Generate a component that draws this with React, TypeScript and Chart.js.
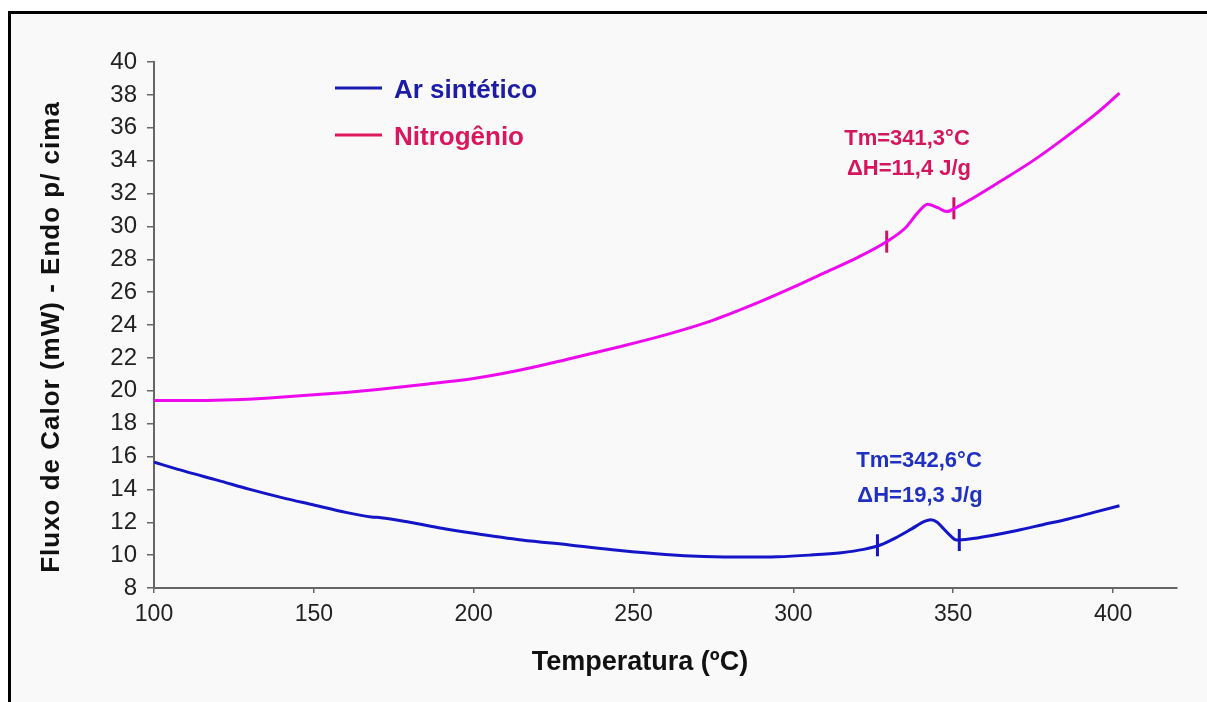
import React, { useEffect, useRef } from 'react';
import { Chart, registerables } from 'chart.js';

Chart.register(...registerables);

// ---- Data ----
const seriesNames = ['Ar sintético', 'Nitrogênio'];

const arTemp = [100, 110, 120, 130, 140, 150, 160, 168, 171, 180, 190, 200, 215, 230, 245, 260, 272, 285, 295, 305, 315, 322, 327, 332, 337, 341, 343, 345, 347, 349, 351, 355, 362, 370, 378, 386, 394, 402];
const arFlux = [15.65, 15.08, 14.55, 14.0, 13.5, 13.05, 12.6, 12.32, 12.28, 12.0, 11.64, 11.33, 10.92, 10.62, 10.3, 10.04, 9.92, 9.88, 9.9, 10.0, 10.15, 10.35, 10.6, 11.05, 11.6, 12.05, 12.15, 12.0, 11.6, 11.2, 10.92, 10.98, 11.2, 11.5, 11.85, 12.2, 12.6, 13.0];

const nitroTemp = [100, 115, 125, 135, 150, 160, 170, 185, 200, 215, 230, 245, 260, 275, 290, 300, 310, 320, 329, 335, 339, 342, 345, 348, 351, 356, 364, 375, 385, 395, 402];
const nitroFlux = [19.4, 19.4, 19.45, 19.55, 19.75, 19.9, 20.08, 20.4, 20.75, 21.28, 21.95, 22.65, 23.4, 24.3, 25.45, 26.3, 27.2, 28.1, 29.05, 29.9, 30.85, 31.35, 31.15, 30.9, 31.15, 31.7, 32.65, 34.0, 35.4, 36.9, 38.1];

// integration limit marks
const arMarkTemp = [326.3, 351.9];
const arMarkFlux = [10.6, 10.92];
const nitroMarkTemp = [329.2, 350.2];
const nitroMarkFlux = [29.07, 31.1];

const arNotes = ['Tm=342,6°C', 'ΔH=19,3 J/g'];
const nitroNotes = ['Tm=341,3°C', 'ΔH=11,4 J/g'];

const xTickValues = [100, 150, 200, 250, 300, 350, 400];
const xTitle = 'Temperatura (ºC)';
const yTitle = 'Fluxo de Calor (mW) - Endo p/ cima';

const FONT = "'Liberation Sans', Arial, sans-serif";
const BLUE = '#1515c8';
const MAGENTA = '#ee0aee';

const zip = (xs: number[], ys: number[]) => xs.map((x, i) => ({ x, y: ys[i] }));

export default function App() {
  const ref = useRef<HTMLCanvasElement>(null);

  useEffect(() => {
    const canvas = ref.current!;
    const W = 1207;
    const H = 702;

    const bg = {
      id: 'bg',
      beforeDraw(c: any) {
        const g = c.ctx;
        g.save();
        g.fillStyle = '#ffffff';
        g.fillRect(0, 0, W, H);
        g.fillStyle = '#f9f9f9';
        g.fillRect(10, 13, W, H);
        g.fillStyle = '#000000';
        g.fillRect(8, 11, 3, H);
        g.fillRect(8, 11, W, 3);
        g.restore();
      },
    };

    const deco = {
      id: 'deco',
      afterDraw(c: any) {
        const g = c.ctx;
        g.save();
        // legend
        g.lineWidth = 3;
        g.strokeStyle = '#1c1cb0';
        g.beginPath(); g.moveTo(335, 88); g.lineTo(382, 88); g.stroke();
        g.strokeStyle = '#e0185e';
        g.beginPath(); g.moveTo(335, 135); g.lineTo(382, 135); g.stroke();
        g.font = `bold 26px ${FONT}`;
        g.textAlign = 'left';
        g.textBaseline = 'alphabetic';
        g.fillStyle = '#1c1ca6';
        g.fillText(seriesNames[0], 394, 98);
        g.fillStyle = '#d8185c';
        g.fillText(seriesNames[1], 394, 145);

        // annotations
        g.font = `bold 22px ${FONT}`;
        g.textAlign = 'center';
        g.fillStyle = '#d4165c';
        g.fillText(nitroNotes[0], 907, 145);
        g.fillText(nitroNotes[1], 909, 175);
        g.fillStyle = '#2030c0';
        g.fillText(arNotes[0], 919, 467);
        g.fillText(arNotes[1], 920, 502);

        // axis titles
        g.fillStyle = '#111111';
        g.font = `bold 27px ${FONT}`;
        g.textBaseline = 'middle';
        g.fillText(xTitle, 640, 663);
        g.translate(52, 337);
        g.rotate(-Math.PI / 2);
        g.font = `bold 26px ${FONT}`;
        try { (g as any).letterSpacing = '1px'; } catch (e) {}
        g.fillText(yTitle, 0, 0);
        g.restore();
      },
    };

    const chart = new Chart(canvas, {
      type: 'line',
      data: {
        datasets: [
          {
            label: seriesNames[0],
            data: zip(arTemp, arFlux),
            borderColor: BLUE,
            borderWidth: 3,
            pointRadius: 0,
            cubicInterpolationMode: 'monotone',
            fill: false,
          },
          {
            label: seriesNames[1],
            data: zip(nitroTemp, nitroFlux),
            borderColor: MAGENTA,
            borderWidth: 3,
            pointRadius: 0,
            cubicInterpolationMode: 'monotone',
            fill: false,
          },
          {
            label: 'marks1',
            data: zip(arMarkTemp, arMarkFlux),
            showLine: false,
            pointStyle: 'line',
            rotation: 90,
            pointRadius: 11,
            borderColor: BLUE,
            pointBorderColor: BLUE,
            pointBorderWidth: 3,
          },
          {
            label: 'marks2',
            data: zip(nitroMarkTemp, nitroMarkFlux),
            showLine: false,
            pointStyle: 'line',
            rotation: 90,
            pointRadius: 11,
            borderColor: '#d0106a',
            pointBorderColor: '#d0106a',
            pointBorderWidth: 3,
          },
        ] as any,
      },
      options: {
        animation: false,
        responsive: false,
        events: [],
        layout: { padding: { top: 62, right: 30, left: 0, bottom: 0 } },
        plugins: {
          legend: { display: false },
          tooltip: { enabled: false },
          title: { display: false },
        },
        scales: {
          x: {
            type: 'linear',
            min: 100,
            max: 420,
            afterBuildTicks: (axis: any) => {
              axis.ticks = xTickValues.map((v) => ({ value: v }));
            },
            afterFit: (scale: any) => {
              scale.height = 114;
            },
            ticks: {
              stepSize: 50,
              color: '#222222',
              font: { family: FONT, size: 23 },
              padding: 8,
              maxRotation: 0,
              autoSkip: false,
            },
            grid: {
              drawOnChartArea: false,
              drawTicks: true,
              tickLength: 5,
              color: '#666666',
              lineWidth: 1.5,
            },
            border: { display: true, color: '#666666', width: 2 },
          },
          y: {
            type: 'linear',
            min: 8,
            max: 40,
            afterFit: (scale: any) => {
              scale.width = 154;
            },
            ticks: {
              stepSize: 2,
              color: '#222222',
              font: { family: FONT, size: 24 },
              padding: 10,
              autoSkip: false,
            },
            grid: {
              drawOnChartArea: false,
              drawTicks: true,
              tickLength: 7,
              color: '#666666',
              lineWidth: 1.5,
            },
            border: { display: true, color: '#666666', width: 2 },
          },
        },
      } as any,
      plugins: [bg, deco],
    });

    return () => chart.destroy();
  }, []);

  return (
    <div style={{ position: 'fixed', left: 0, top: 0, width: 1207, height: 702 }}>
      <canvas ref={ref} width={1207} height={702} style={{ display: 'block' }} />
    </div>
  );
}
